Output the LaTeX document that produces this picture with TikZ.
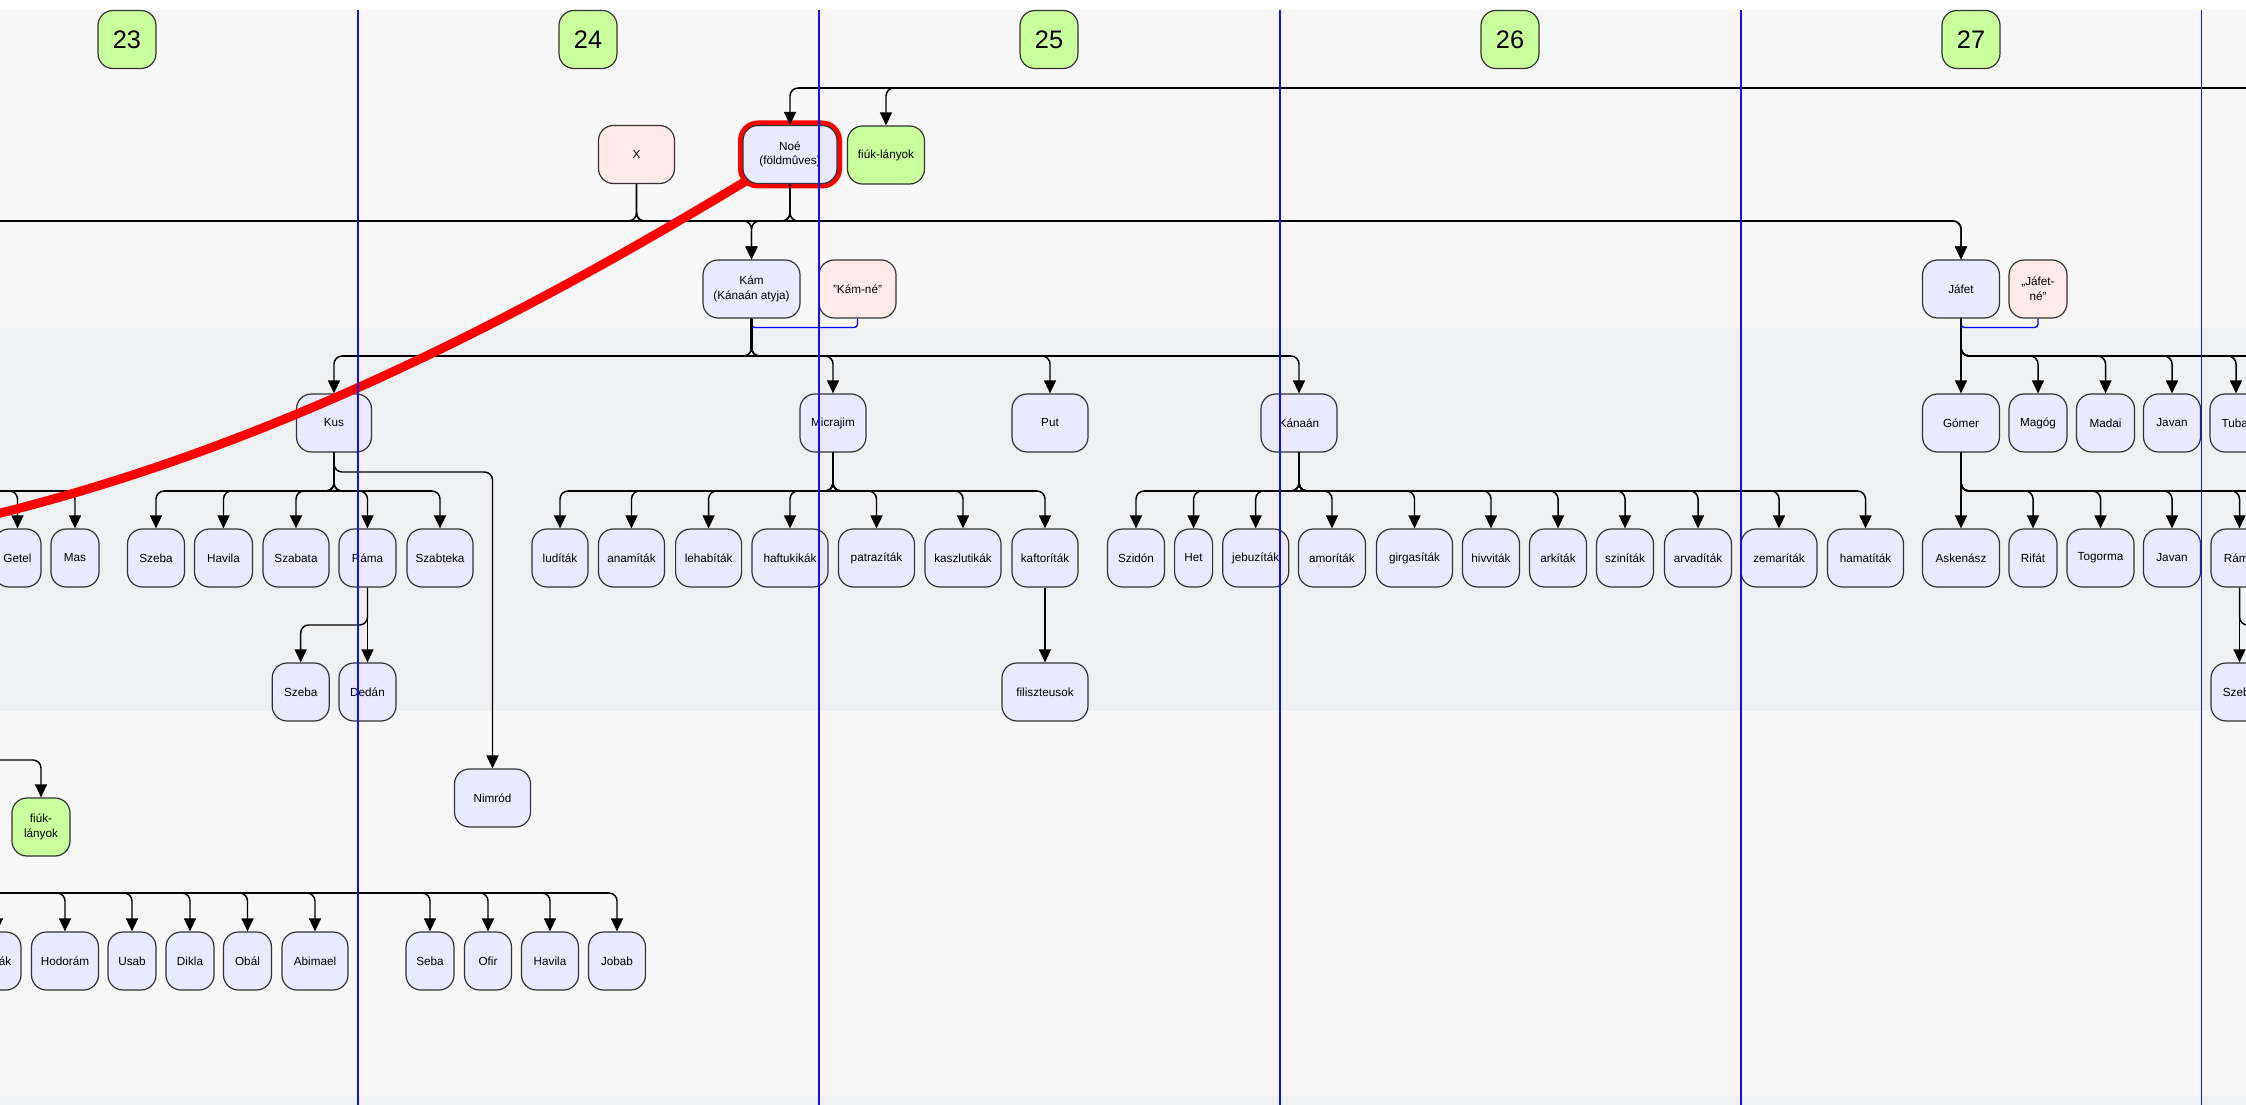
\documentclass[tikz,border=0pt]{standalone}
\usepackage{fontspec}
\setmainfont{Liberation Sans}
\usetikzlibrary{arrows.meta,calc}
\definecolor{bandA}{HTML}{F7F7F7}
\definecolor{bandB}{HTML}{EFF0F2}
\definecolor{pfill}{HTML}{E9E9FF}
\definecolor{ffill}{HTML}{FFE9E9}
\definecolor{gfill}{HTML}{C9FF9C}
\definecolor{bord}{HTML}{333333}
\definecolor{vline}{HTML}{1010F0}
\begin{document}
\begin{tikzpicture}[x=0.75pt,y=-0.75pt,
  box/.style={draw=bord, line width=0.9pt, rounded corners=11.25pt, minimum height=43.5pt, inner sep=1pt, align=center, font=\fontsize{8.8}{11}\selectfont},
  per/.style={box, fill=pfill, minimum width={#1*0.75pt}},
  fem/.style={box, fill=ffill, minimum width={#1*0.75pt}},
  grn/.style={box, fill=gfill, minimum width={#1*0.75pt}},
  num/.style={draw=bord, line width=0.9pt, fill=gfill, rounded corners=11.25pt, minimum width=43.5pt, minimum height=43.5pt, inner sep=0pt, font=\fontsize{19}{21}\selectfont},
  conn/.style={draw=black, line width=1.1pt, rounded corners=6pt, -{Triangle[length=9.75pt,width=9pt]}},
  link/.style={draw=black, line width=1.1pt, rounded corners=6pt},
  busline/.style={draw=black, line width=1.7pt},
  wed/.style={draw=blue, line width=1pt, rounded corners=2.5pt},
  sepline/.style={draw=vline, line width=1.1pt},
  hilite/.style={draw=red, line width=3.75pt, rounded corners=13pt},
  redpath/.style={draw=red, line width=6.75pt},
]
\useasboundingbox (0,0) rectangle (2246,1105);
\clip (0,0) rectangle (2246,1105);
% bands
\fill[white] (0,0) rectangle (2246,10);
\fill[bandA] (0,10) rectangle (2246,328);
\fill[bandB] (0,328) rectangle (2246,711);
\fill[bandA] (0,711) rectangle (2246,1096);
\fill[bandB] (0,1096) rectangle (2246,1105);

% generation numbers
\foreach \n/\xx in {23/127,24/588,25/1049,26/1510,27/1971}
  \node[num] (g\n) at (\xx,39.5) {\n};

% helper coordinates
\coordinate (lamek) at (2300,88);
\coordinate (sem) at (-60,221);
\coordinate (jafR) at (2300,356);
\coordinate (gomR) at (2300,491);
\coordinate (ramR) at (2300,625);
\coordinate (aram) at (-60,491);
\coordinate (fiukL) at (-60,760);
\coordinate (joktan) at (-60,893);
\coordinate (b356) at (0,356);
\coordinate (b327) at (0,327.5);
\coordinate (b472) at (0,472);
\coordinate (b491) at (0,491);
\coordinate (b625) at (0,625);

% row 1
\node[fem=76] (xnode) at (636.5,154.5) {X};
\node[hilite, minimum width=74.25pt, minimum height=47.25pt] (noehl) at (790,154.5) {};
\node[per=94] (noe) at (790,154.5) {Noé\\(földmûves)};
\node[grn=77] (fiuka) at (886,155) {fiúk-lányok};

% row 2
\node[per=97] (kam) at (751.5,289) {Kám\\(Kánaán atyja)};
\node[fem=77] (kamne) at (857.5,289) {"Kám-né"};
\node[per=77] (jafet) at (1961,289) {Jáfet};
\node[fem=58] (jafetne) at (2038,289) {„Jáfet-\\né”};

% row 3
\node[per=75] (kus) at (334,423) {Kus};
\node[per=66] (micrajim) at (833,423) {Micrajim};
\node[per=76] (put) at (1050,423) {Put};
\node[per=76] (kanaan) at (1299,423) {Kánaán};
\node[per=77] (gomer) at (1961,423) {Gómer};
\node[per=58] (magog) at (2038,423) {Magóg};
\node[per=58] (madai) at (2105.5,423) {Madai};
\node[per=57] (javana) at (2172,423) {Javan};
\node[per=52] (tubal) at (2236,423) {Tubal};

% row 4
\node[per=47] (getel) at (17.5,558) {Getel};
\node[per=48] (mas) at (75,558) {Mas};
\node[per=57] (szebaa) at (156,558) {Szeba};
\node[per=58] (havilaa) at (223.5,558) {Havila};
\node[per=66] (szabata) at (296,558) {Szabata};
\node[per=57] (ramaa) at (367.5,558) {Ráma};
\node[per=66] (szabteka) at (440,558) {Szabteka};
\node[per=56] (ludit) at (560,558) {ludíták};
\node[per=66] (anamit) at (631.5,558) {anamíták};
\node[per=66] (lehabit) at (708.6,558) {lehabíták};
\node[per=76] (haftuk) at (790,558) {haftukikák};
\node[per=76] (patraz) at (876.5,558) {patrazíták};
\node[per=76] (kaszlut) at (963,558) {kaszlutikák};
\node[per=66] (kaftor) at (1045,558) {kaftoríták};
\node[per=57] (szidon) at (1136,558) {Szidón};
\node[per=38] (het) at (1193.6,558) {Het};
\node[per=66] (jebuz) at (1255.7,558) {jebuzíták};
\node[per=67] (amor) at (1332,558) {amoríták};
\node[per=76] (girgas) at (1414.5,558) {girgasíták};
\node[per=57] (hivv) at (1491,558) {hivviták};
\node[per=57] (arkit) at (1558,558) {arkíták};
\node[per=57] (szinit) at (1625,558) {sziníták};
\node[per=67] (arvad) at (1698,558) {arvadíták};
\node[per=76] (zemar) at (1779,558) {zemaríták};
\node[per=76] (hamat) at (1865.5,558) {hamatíták};
\node[per=77] (askenasz) at (1961,558) {Askenász};
\node[per=48] (rifat) at (2033,558) {Rifát};
\node[per=67] (togorma) at (2100.5,558) {Togorma};
\node[per=57] (javanb) at (2172,558) {Javan};
\node[per=57] (ramab) at (2239.5,558) {Ráma};

% row 5
\node[per=57] (szebab) at (300.7,692) {Szeba};
\node[per=57] (dedan) at (367.5,692) {Dedán};
\node[per=86] (filiszt) at (1045,692) {filiszteusok};
\node[per=57] (szebac) at (2239.5,692) {Szeba};

% lower
\node[per=76] (nimrod) at (492.5,798) {Nimród};
\node[grn=58] (fiukb) at (41,827) {fiúk-\\lányok};

% row 7
\node[per=48] (jerak) at (-3,961) {Jerák};
\node[per=67] (hodoram) at (65,961) {Hodorám};
\node[per=48] (usab) at (132,961) {Usab};
\node[per=48] (dikla) at (190,961) {Dikla};
\node[per=48] (obal) at (247.5,961) {Obál};
\node[per=66] (abimael) at (315,961) {Abimael};
\node[per=48] (seba) at (430,961) {Seba};
\node[per=47] (ofir) at (488,961) {Ofir};
\node[per=57] (havilab) at (550,961) {Havila};
\node[per=57] (jobab) at (617,961) {Jobab};

% ---------- connectors ----------
\foreach \c in {noe,fiuka}
  \draw[conn] (lamek) -- (\c.north |- lamek) -- (\c.north);
\draw[busline] ($(noe.north |- lamek)+(8,0)$) -- (lamek);

\foreach \p in {xnode,noe} {
  \draw[link] (\p.south) -- (\p.south |- sem) -- (sem);
  \foreach \c in {kam,jafet}
    \draw[conn] (\p.south) -- (\p.south |- sem) -- (\c.north |- sem) -- (\c.north);
}
\draw[busline] (sem) -- ($(jafet.north |- sem)+(-8,0)$);

\draw[wed] (kam.south) -- (kam.south |- b327) -- (kamne.south |- b327) -- (kamne.south);
\draw[wed] (jafet.south) -- (jafet.south |- b327) -- (jafetne.south |- b327) -- (jafetne.south);

\foreach \c in {kus,micrajim,put,kanaan}
  \draw[conn] (kam.south) -- (kam.south |- b356) -- (\c.north |- b356) -- (\c.north);
\draw[busline] (kam.south) -- ($(kam.south |- b356)+(0,-6)$);
\draw[busline] ($(kus.north |- b356)+(8,0)$) -- ($(kanaan.north |- b356)+(-8,0)$);

\draw[conn] (jafet.south) -- (gomer.north);
\foreach \c in {magog,madai,javana,tubal}
  \draw[conn] (jafet.south) -- (jafet.south |- b356) -- (\c.north |- b356) -- (\c.north);
\draw[link] (jafet.south) -- (jafet.south |- b356) -- (jafR);
\draw[busline] (jafet.south) -- ($(jafet.south |- b356)+(0,-6)$);
\draw[busline] ($(jafet.south |- b356)+(8,0)$) -- (jafR);

\foreach \c in {szebaa,havilaa,szabata,ramaa,szabteka}
  \draw[conn] (kus.south) -- (kus.south |- b491) -- (\c.north |- b491) -- (\c.north);
\draw[conn] (kus.south) -- (kus.south |- b472) -- (nimrod.north |- b472) -- (nimrod.north);
\draw[busline] (kus.south) -- ($(kus.south |- b491)+(0,-6)$);
\draw[busline] ($(szebaa.north |- b491)+(8,0)$) -- ($(szabteka.north |- b491)+(-8,0)$);

\foreach \c in {getel,mas}
  \draw[conn] (aram) -- (\c.north |- aram) -- (\c.north);
\draw[busline] (aram) -- ($(mas.north |- aram)+(-8,0)$);

\draw[conn] (ramaa.south) -- (dedan.north);
\draw[conn] (ramaa.south) -- (ramaa.south |- b625) -- (szebab.north |- b625) -- (szebab.north);

\foreach \c in {ludit,anamit,lehabit,haftuk,patraz,kaszlut,kaftor}
  \draw[conn] (micrajim.south) -- (micrajim.south |- b491) -- (\c.north |- b491) -- (\c.north);
\draw[busline] (micrajim.south) -- ($(micrajim.south |- b491)+(0,-6)$);
\draw[busline] ($(ludit.north |- b491)+(8,0)$) -- ($(kaftor.north |- b491)+(-8,0)$);
\draw[conn] (kaftor.south) -- (filiszt.north);

\foreach \c in {szidon,het,jebuz,amor,girgas,hivv,arkit,szinit,arvad,zemar,hamat}
  \draw[conn] (kanaan.south) -- (kanaan.south |- b491) -- (\c.north |- b491) -- (\c.north);
\draw[busline] (kanaan.south) -- ($(kanaan.south |- b491)+(0,-6)$);
\draw[busline] ($(szidon.north |- b491)+(8,0)$) -- ($(hamat.north |- b491)+(-8,0)$);

\draw[conn] (gomer.south) -- (askenasz.north);
\foreach \c in {rifat,togorma,javanb,ramab}
  \draw[conn] (gomer.south) -- (gomer.south |- b491) -- (\c.north |- b491) -- (\c.north);
\draw[link] (gomer.south) -- (gomer.south |- b491) -- (gomR);
\draw[busline] (gomer.south) -- ($(gomer.south |- b491)+(0,-6)$);
\draw[busline] ($(gomer.south |- b491)+(8,0)$) -- (gomR);

\draw[conn] (ramab.south) -- (szebac.north);
\draw[link] (ramab.south) -- (ramab.south |- ramR) -- (ramR);

\draw[conn] (fiukL) -- (fiukb.north |- fiukL) -- (fiukb.north);

\foreach \c in {jerak,hodoram,usab,dikla,obal,abimael,seba,ofir,havilab,jobab}
  \draw[conn] (joktan) -- (\c.north |- joktan) -- (\c.north);
\draw[busline] (joktan) -- ($(jobab.north |- joktan)+(-8,0)$);

% red highlight path
\coordinate (redA) at (746,181);
\coordinate (redB) at (-20,518);
\draw[redpath] (redA) .. controls (529,312) and (271,449) .. (redB);

% generation separators
\foreach \xx in {358,819,1280,1741,2201.5}
  \draw[sepline] (\xx,10) -- (\xx,1105);
\end{tikzpicture}
\end{document}
